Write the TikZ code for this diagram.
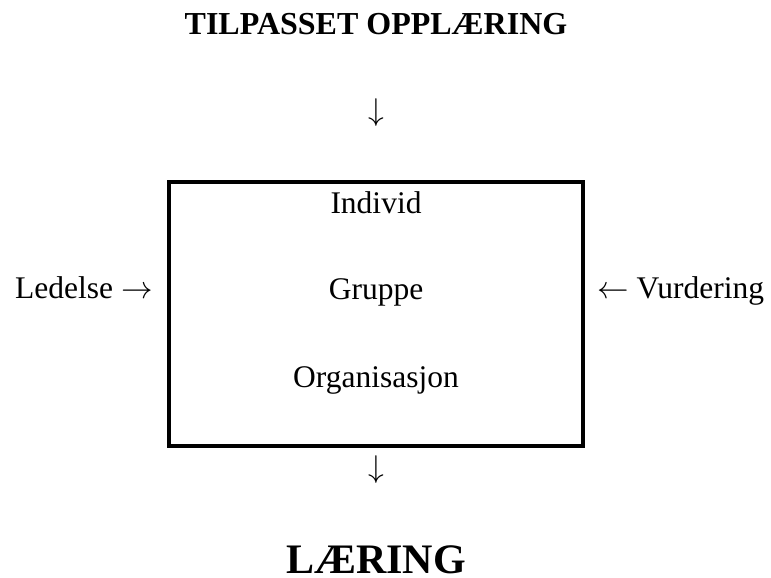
\RequirePackage{fix-cm}
\documentclass[tikz,border=0pt]{standalone}
\usepackage{fontspec}
\setmainfont{Liberation Serif}
\begin{document}
\begin{tikzpicture}[x=1pt,y=-1pt,
  body/.style={inner sep=0pt,anchor=base,font=\fontsize{31.5}{36}\selectfont},
  head/.style={inner sep=0pt,anchor=base,font=\fontsize{32}{38}\selectfont\bfseries},
  big/.style={inner sep=0pt,anchor=base,font=\fontsize{42}{48}\selectfont\bfseries},
  frame/.style={draw=black,line width=4pt}]
\useasboundingbox (0,0) rectangle (771,578);
\node[head] (title) at (376,35) {TILPASSET OPPLÆRING};
\node[body] (arrtop) at (376,121) {$\downarrow$};
\draw[frame] (169,182) rectangle (583,446);
\coordinate (box) at (376,314);
\node[body] (ind) at (376,213) {Individ};
\node[body] (grp) at (376,299) {Gruppe};
\node[body] (org) at (376,387) {Organisasjon};
\node[body,anchor=base west] (led) at (15,298) {Ledelse $\rightarrow$};
\node[body,anchor=base west] (vur) at (597,298) {$\leftarrow$ Vurdering};
\node[body] (arrbot) at (376,477) {$\downarrow$};
\node[big] (laer) at (376,573) {LÆRING};
\end{tikzpicture}
\end{document}
